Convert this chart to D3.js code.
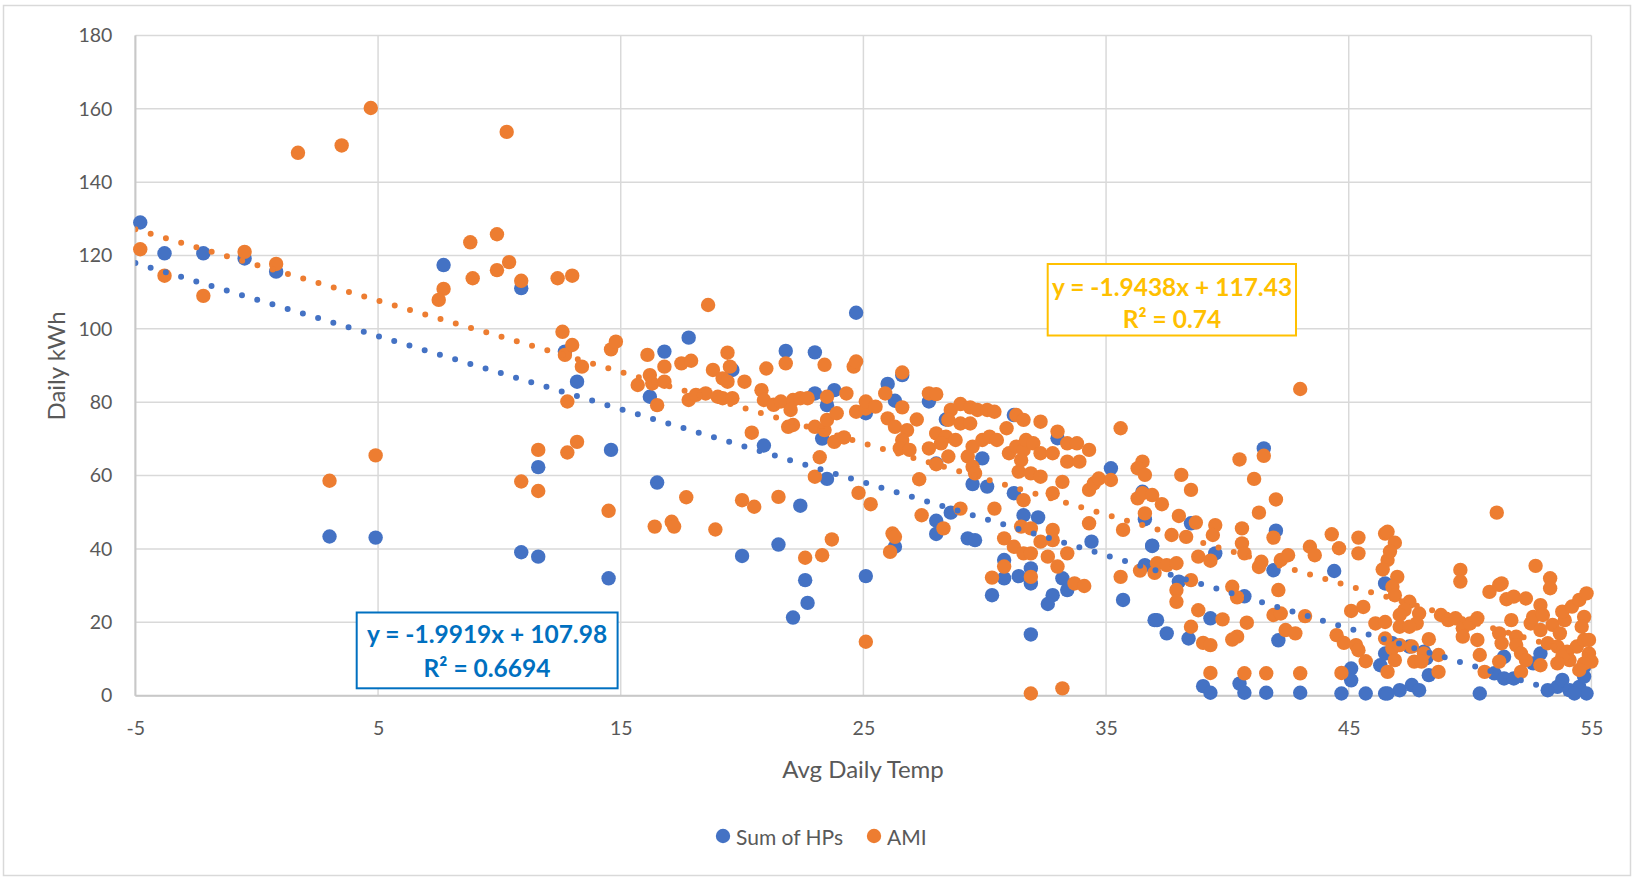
<!DOCTYPE html>
<html><head><meta charset="utf-8">
<script src="https://cdn.jsdelivr.net/npm/d3@7/dist/d3.min.js"></script>
<style>
body{margin:0;background:#fff;}
text{font-family:Lato,"Liberation Sans",sans-serif;}
</style>
</head><body>
<svg id="chart" width="1633" height="879"></svg>
<script>
// ---- data ----
const xTicks = [-5, 5, 15, 25, 35, 45, 55];
const yTicks = [0, 20, 40, 60, 80, 100, 120, 140, 160, 180];
const seriesNames = ["Sum of HPs", "AMI"];
const seriesColors = ["#4472C4", "#ED7D31"];

const hpTemp = [-4.8,-3.8,-2.2,-0.5,0.8,7.7,10.9,12.7,3.0,4.9,11.6,10.9,11.6,
 24.7,17.8,16.8,21.8,23.0,13.2,16.2,23.0,23.8,23.5,23.3,20.9,23.5,25.1,14.6,16.5,22.4,21.5,20.0,14.5,22.6,22.7,22.1,25.1,19.6,
 26.0,27.7,26.3,26.6,28.4,31.2,33.0,28.0,29.9,29.5,30.1,31.2,35.2,31.6,32.2,28.6,28.0,28.0,29.3,29.6,26.3,34.4,36.6,36.9,36.6,30.8,30.8,31.4,31.9,31.9,33.2,33.4,32.8,32.6,30.3,35.7,31.9,37.0,
 41.5,36.9,38.5,38.0,39.5,42.0,41.9,37.1,37.5,38.4,39.3,40.7,42.1,44.4,39.0,39.3,40.5,40.7,41.6,43.0,44.7,45.1,45.1,45.7,46.3,46.5,36.5,
 46.5,46.5,46.8,47.5,48.1,48.2,48.3,47.1,47.6,47.9,46.6,50.4,51.0,51.4,51.8,51.4,52.6,52.9,53.2,53.6,53.8,54.1,54.5,54.8,54.3,54.7,54.7];
const hpKwh = [129.0,120.6,120.6,119.2,115.6,117.4,111.1,93.8,43.4,43.1,62.3,39.1,37.9,
 104.4,97.6,93.8,94.0,93.6,85.6,81.5,82.4,83.3,79.2,70.1,68.2,59.1,77.0,67.0,58.1,51.8,41.2,38.1,32.0,31.5,25.3,21.3,32.6,88.8,
 85.0,80.2,80.4,87.4,75.3,76.5,70.2,63.3,64.7,57.7,57.0,55.2,62.0,49.2,48.6,49.9,47.7,44.1,42.9,42.4,40.6,42.0,48.1,40.8,35.6,37.0,32.0,32.6,34.7,30.6,32.0,28.8,27.4,25.0,27.4,26.1,16.7,20.6,
 67.4,40.9,47.0,31.1,38.8,45.0,34.2,20.6,17.0,15.6,21.1,27.1,15.1,34.0,2.6,0.8,3.3,0.8,0.8,0.8,0.6,7.4,4.2,0.6,8.3,0.6,55.6,
 30.6,11.5,14.3,13.4,12.0,10.2,5.6,1.5,2.9,1.5,0.6,0.6,6.1,4.7,4.7,10.6,8.8,11.5,1.5,2.4,4.3,1.5,2.4,0.6,0.6,5.2,7.9];

const amiTemp = [-4.8,-3.8,-2.2,-0.5,0.8,1.7,3.5,4.7,10.3,7.7,7.5,8.8,8.9,9.9,9.9,10.4,10.9,12.4,13.0,12.6,12.7,12.8,3.0,4.9,11.6,10.9,11.6,12.8,
 18.6,13.0,13.4,13.2,14.6,14.8,14.5,16.1,16.8,16.2,16.3,16.8,15.7,16.5,17.5,17.9,17.8,18.1,18.5,19.0,19.2,19.6,18.8,19.4,19.5,19.2,19.4,20.1,21.0,21.8,20.8,20.9,21.3,21.6,22.1,22.4,22.7,22.0,22.1,21.9,20.4,23.4,23.5,24.3,24.6,24.7,24.7,23.0,23.4,23.5,23.9,23.8,24.2,23.2,23.0,24.8,25.3,25.1,17.7,16.4,17.1,17.2,18.9,20.0,20.5,21.5,23.7,22.6,23.3,25.1,
 26.6,25.9,25.1,25.5,26.6,26.0,26.3,26.8,26.6,27.2,26.5,26.9,27.7,28.0,28.6,29.0,29.4,29.7,30.1,30.4,28.5,29.0,29.4,28.0,28.4,28.8,27.7,28.2,28.5,29.5,29.9,30.2,30.5,29.3,29.5,29.6,28.0,27.3,27.4,29.0,28.3,26.2,26.3,26.1,30.4,30.9,31.3,31.6,32.3,31.0,31.3,31.6,31.5,31.7,32.0,32.3,31.4,31.9,32.3,33.0,33.4,33.8,34.3,32.8,33.4,33.9,33.2,32.8,31.6,31.5,31.9,30.8,31.2,31.6,31.9,32.3,32.8,32.8,32.6,33.0,33.4,30.8,30.3,31.9,33.7,34.1,34.3,34.5,34.7,35.2,34.3,35.6,35.7,35.6,36.5,36.3,36.6,36.3,36.5,36.9,36.6,36.4,37.0,31.9,33.2,
 43.0,40.5,41.5,41.1,42.0,41.3,41.9,40.6,40.6,40.7,38.1,38.5,37.3,38.0,38.7,39.5,39.4,37.7,38.3,38.8,39.3,37.1,37.5,37.9,37.9,37.9,38.5,38.8,38.5,39.0,39.3,39.8,39.3,40.2,40.4,40.8,40.4,40.2,40.7,41.6,43.0,44.7,42.1,41.9,42.2,42.4,42.8,41.3,41.4,42.2,42.5,43.2,43.4,43.6,44.3,44.6,45.4,45.4,44.5,44.8,45.3,45.4,45.7,45.1,45.6,46.1,46.5,46.5,46.6,46.4,46.6,
 51.1,46.6,46.9,46.7,47.0,46.8,46.9,47.5,47.3,47.9,47.8,47.1,47.1,47.5,46.5,46.8,47.1,47.6,48.1,48.3,46.9,47.7,48.0,48.7,48.7,48.8,49.1,49.4,49.6,49.6,49.7,49.7,50.0,50.3,50.3,50.4,50.6,50.8,51.2,51.3,51.5,51.8,52.3,52.7,53.3,53.3,51.7,51.2,51.3,51.9,51.9,51.2,52.1,52.3,52.1,52.5,52.6,52.9,53.0,52.9,53.2,52.9,53.4,53.7,53.9,53.8,54.2,54.5,54.8,53.6,54.0,54.4,54.7,54.7,54.6,54.9,54.9,55.0,54.7,54.1,53.8,54.5,53.6];
const amiKwh = [121.7,114.5,109.0,121.0,117.7,148.0,150.0,160.2,153.7,110.9,107.9,123.6,113.8,125.8,116.0,118.2,113.1,113.8,114.5,99.2,92.9,80.2,58.6,65.5,67.0,58.4,55.8,66.3,
 106.5,95.6,89.7,69.2,94.4,96.5,50.4,92.9,89.7,87.4,85.1,85.6,84.7,79.2,90.6,91.3,80.6,82.0,82.4,81.5,81.1,81.1,88.8,93.5,89.7,86.5,85.6,85.6,89.2,90.6,83.3,80.6,79.3,80.2,80.6,81.1,81.1,77.9,73.8,73.3,71.7,90.2,81.5,82.4,89.7,91.1,77.4,73.3,72.4,75.2,77.0,69.2,70.4,65.0,59.7,55.3,52.2,78.3,54.1,46.1,47.4,46.1,45.3,53.3,51.5,54.2,42.6,37.6,38.3,14.7,
 88.1,82.4,80.2,78.8,78.6,75.6,73.3,72.4,69.7,75.3,67.4,67.0,82.4,82.2,77.9,79.5,78.6,77.9,77.9,77.4,75.2,74.2,74.2,71.5,70.6,69.7,67.4,68.8,65.2,67.9,69.7,70.6,69.7,65.2,62.4,60.6,63.1,59.0,49.2,51.0,45.6,44.2,43.3,39.2,51.0,72.9,76.5,75.2,74.7,66.1,67.9,67.0,64.2,69.7,68.8,66.1,61.1,60.6,59.7,72.0,68.8,68.8,67.0,66.1,63.8,63.8,58.3,55.2,53.3,46.1,45.6,42.9,40.6,38.8,38.8,42.0,45.2,42.4,37.9,35.2,38.8,35.2,32.2,32.4,30.6,29.9,56.1,57.9,59.2,58.8,47.0,72.9,45.2,32.4,63.8,62.0,60.2,53.8,55.2,54.7,49.7,34.1,33.5,0.6,2.0,
 83.6,64.4,65.4,59.1,53.5,49.9,43.1,45.6,41.5,38.8,60.2,56.1,52.2,49.0,47.2,46.5,43.8,43.8,43.3,37.9,36.8,36.1,35.6,36.1,28.8,25.6,31.5,23.3,18.8,14.4,13.8,20.8,6.2,29.7,26.8,19.9,16.1,15.3,6.1,6.1,6.1,6.2,28.8,22.0,22.4,17.9,17.0,35.1,36.5,37.0,38.3,21.7,40.6,38.3,44.0,40.2,43.1,38.8,16.5,14.4,13.8,12.4,9.4,23.1,24.2,19.7,20.1,44.2,37.0,34.4,6.5,
 49.9,44.7,41.7,39.3,32.4,29.7,27.4,25.6,23.4,22.4,19.7,22.0,18.8,18.8,15.6,12.9,13.8,13.4,11.5,15.4,9.7,9.3,9.3,11.1,6.5,22.0,20.6,21.1,34.3,31.1,18.4,16.1,19.7,21.1,15.2,11.1,6.5,28.3,30.2,30.6,26.3,27.0,26.5,35.4,32.0,29.3,20.6,17.0,14.3,16.1,13.8,9.3,11.5,9.7,6.5,19.7,21.5,24.7,22.0,17.9,14.3,8.3,19.3,17.0,20.6,22.9,24.3,26.1,27.9,13.4,12.0,13.4,15.2,21.5,18.8,15.2,11.5,9.3,8.8,9.7,10.6,7.0,8.8];

// linear trendlines as labelled on the chart
const trendSlopes = [-1.9919, -1.9438];
const trendIntercepts = [107.98, 117.43];
const trendLabels = [["y = -1.9919x + 107.98", "R² = 0.6694"], ["y = -1.9438x + 117.43", "R² = 0.74"]];
const trendLabelColors = ["#0070C0", "#FFC000"];

// ---- layout ----
const plot = {l: 135.4, r: 1591.4, t: 35.4, b: 695.7};
const svg = d3.select("#chart");
const x = d3.scaleLinear().domain([-5, 55]).range([plot.l, plot.r]);
const y = d3.scaleLinear().domain([0, 180]).range([plot.b, plot.t]);

svg.append("rect").attr("x", 3.5).attr("y", 5.5).attr("width", 1627).attr("height", 870)
  .attr("fill", "#fff").attr("stroke", "#d9d9d9").attr("stroke-width", 1.5);

// gridlines
svg.append("g").selectAll("line").data(yTicks).join("line")
  .attr("x1", plot.l).attr("x2", plot.r).attr("y1", d => y(d)).attr("y2", d => y(d))
  .attr("stroke", "#d9d9d9").attr("stroke-width", 1.5);
svg.append("g").selectAll("line").data(xTicks).join("line")
  .attr("x1", d => x(d)).attr("x2", d => x(d)).attr("y1", plot.t).attr("y2", plot.b)
  .attr("stroke", "#d9d9d9").attr("stroke-width", 1.5);
// axis lines
svg.append("line").attr("x1", plot.l).attr("x2", plot.r).attr("y1", y(0)).attr("y2", y(0))
  .attr("stroke", "#c8c8c8").attr("stroke-width", 2);
svg.append("line").attr("x1", x(-5)).attr("x2", x(-5)).attr("y1", plot.t).attr("y2", plot.b)
  .attr("stroke", "#c8c8c8").attr("stroke-width", 2);

// axes via d3 (tick labels only)
const yAxis = svg.append("g").attr("transform", `translate(${plot.l},0)`)
  .call(d3.axisLeft(y).tickValues(yTicks).tickSize(0).tickPadding(23).tickFormat(d => String(d)));
const xAxis = svg.append("g").attr("transform", `translate(0,${plot.b})`)
  .call(d3.axisBottom(x).tickValues(xTicks).tickSize(0).tickPadding(25).tickFormat(d => String(d)));
[yAxis, xAxis].forEach(a => {
  a.select(".domain").remove();
  a.selectAll("text").attr("fill", "#595959").style("font-size", "19.5px").style("font-family", "Lato");
});

// axis titles
svg.append("text").attr("transform", `translate(55,366) rotate(-90)`).attr("text-anchor", "middle")
  .attr("dominant-baseline", "central").attr("fill", "#595959").style("font-size", "24px").text("Daily kWh");
svg.append("text").attr("x", 863).attr("y", 768).attr("text-anchor", "middle")
  .attr("dominant-baseline", "central").attr("fill", "#595959").style("font-size", "24px").text("Avg Daily Temp");

// clip
svg.append("clipPath").attr("id", "clip").append("rect")
  .attr("x", plot.l).attr("y", plot.t - 10).attr("width", plot.r - plot.l + 10).attr("height", plot.b - plot.t + 10);

// markers
const series = [
  {temp: hpTemp, kwh: hpKwh},
  {temp: amiTemp, kwh: amiKwh}
];
series.forEach((s, i) => {
  svg.append("g").selectAll("circle").data(d3.range(s.temp.length)).join("circle")
    .attr("cx", k => x(s.temp[k])).attr("cy", k => y(s.kwh[k])).attr("r", 7.2)
    .attr("fill", seriesColors[i]);
});

// trendlines
const trendX = [-5, 55];
trendSlopes.forEach((m, i) => {
  const line = d3.line().x(d => x(d)).y(d => y(m * d + trendIntercepts[i]));
  svg.append("path").attr("d", line(trendX)).attr("clip-path", "url(#clip)")
    .attr("fill", "none").attr("stroke", seriesColors[i]).attr("stroke-width", 6)
    .attr("stroke-linecap", "round").attr("stroke-dasharray", "0 15.9");
});

// trendline labels
const labelBoxes = [
  {x0: 356.7, y0: 612.5, x1: 617.6, y1: 688.3, cx: 487, l1: 633, l2: 667},
  {x0: 1047.7, y0: 264, x1: 1296, y1: 335.5, cx: 1172, l1: 286, l2: 318}
];
labelBoxes.forEach((b, i) => {
  svg.append("rect").attr("x", b.x0).attr("y", b.y0).attr("width", b.x1 - b.x0).attr("height", b.y1 - b.y0)
    .attr("fill", "#fff").attr("stroke", trendLabelColors[i]).attr("stroke-width", 2);
  [b.l1, b.l2].forEach((ly, j) => {
    svg.append("text").attr("x", b.cx).attr("y", ly).attr("text-anchor", "middle")
      .attr("dominant-baseline", "central").attr("fill", trendLabelColors[i])
      .style("font-size", "24.5px").style("font-weight", "bold").text(trendLabels[i][j]);
  });
});

// legend
const legendItems = [{cx: 723, tx: 736}, {cx: 874, tx: 887}];
legendItems.forEach((it, i) => {
  svg.append("circle").attr("cx", it.cx).attr("cy", 836).attr("r", 7.2).attr("fill", seriesColors[i]);
  svg.append("text").attr("x", it.tx).attr("y", 836).attr("dominant-baseline", "central")
    .attr("fill", "#595959").style("font-size", "21px").text(seriesNames[i]);
});
</script>
</body></html>
